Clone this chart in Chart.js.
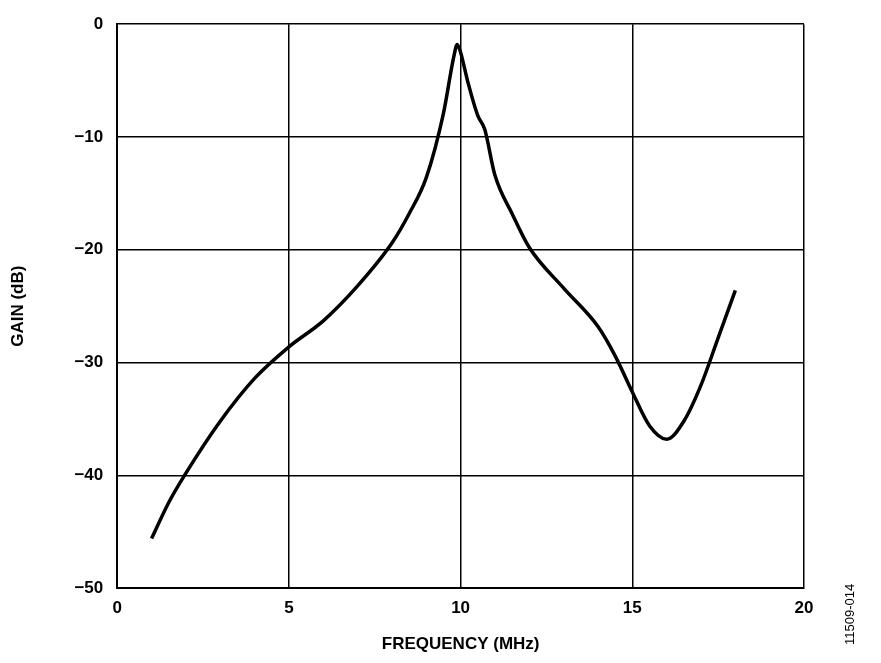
<!DOCTYPE html>
<html><head><meta charset="utf-8">
<script src="https://cdn.jsdelivr.net/npm/chart.js@4"></script>
<style>
body{margin:0;background:#fff;font-family:"Liberation Sans",Arial,sans-serif}
#wrap{position:relative;width:881px;height:663px}
#note{position:absolute;left:842px;top:645px;transform:rotate(-90deg);transform-origin:left top;font-size:13px;color:#000;white-space:nowrap}
</style></head><body>
<div id="wrap"><canvas id="c" width="881" height="663"></canvas><div id="note">11509-014</div></div>
<script>
const freqMHz=[1,1.5,2,3,4,5,6,7,8,8.5,9,9.5,9.8,9.9,10,10.2,10.5,10.7,11,11.5,12,13,14,14.5,15,15.5,16,16.5,17,17.5,18];
const gainDb=[-45.6,-42.4,-39.8,-35.2,-31.4,-28.6,-26.3,-23.2,-19.4,-16.8,-13.6,-7.9,-2.9,-1.8,-2.5,-5,-8.1,-9.3,-13.4,-16.8,-19.8,-23.4,-26.8,-29.4,-32.6,-35.6,-36.8,-35.2,-32,-27.8,-23.6];
const pts=freqMHz.map((x,i)=>({x,y:gainDb[i]}));
const tickFont={family:'"Liberation Sans",Arial,sans-serif',size:17,weight:'bold'};
new Chart(document.getElementById('c'),{
  type:'scatter',
  data:{datasets:[{data:pts,showLine:true,borderColor:'#000',borderWidth:3.5,pointRadius:0,cubicInterpolationMode:'monotone'}]},
  options:{responsive:false,animation:false,
    layout:{padding:{top:22,right:77,left:8,bottom:8}},
    plugins:{legend:{display:false},tooltip:{enabled:false}},
    scales:{
      x:{type:'linear',min:0,max:20,ticks:{stepSize:5,color:'#000',font:tickFont,padding:10},
         grid:{color:'#000',lineWidth:1.5,drawTicks:false},border:{color:'#000',width:2},
         title:{display:true,text:'FREQUENCY (MHz)',color:'#000',font:tickFont,padding:{top:6,bottom:0}}},
      y:{min:-50,max:0,ticks:{stepSize:10,color:'#000',font:tickFont,padding:14,callback:v=>v<0?'\u2212'+Math.abs(v):v},
         grid:{color:'#000',lineWidth:1.5,drawTicks:false},border:{color:'#000',width:2},
         title:{display:true,text:'GAIN (dB)',color:'#000',font:tickFont,padding:{top:0,bottom:32}}}
    }}
});
</script></body></html>
